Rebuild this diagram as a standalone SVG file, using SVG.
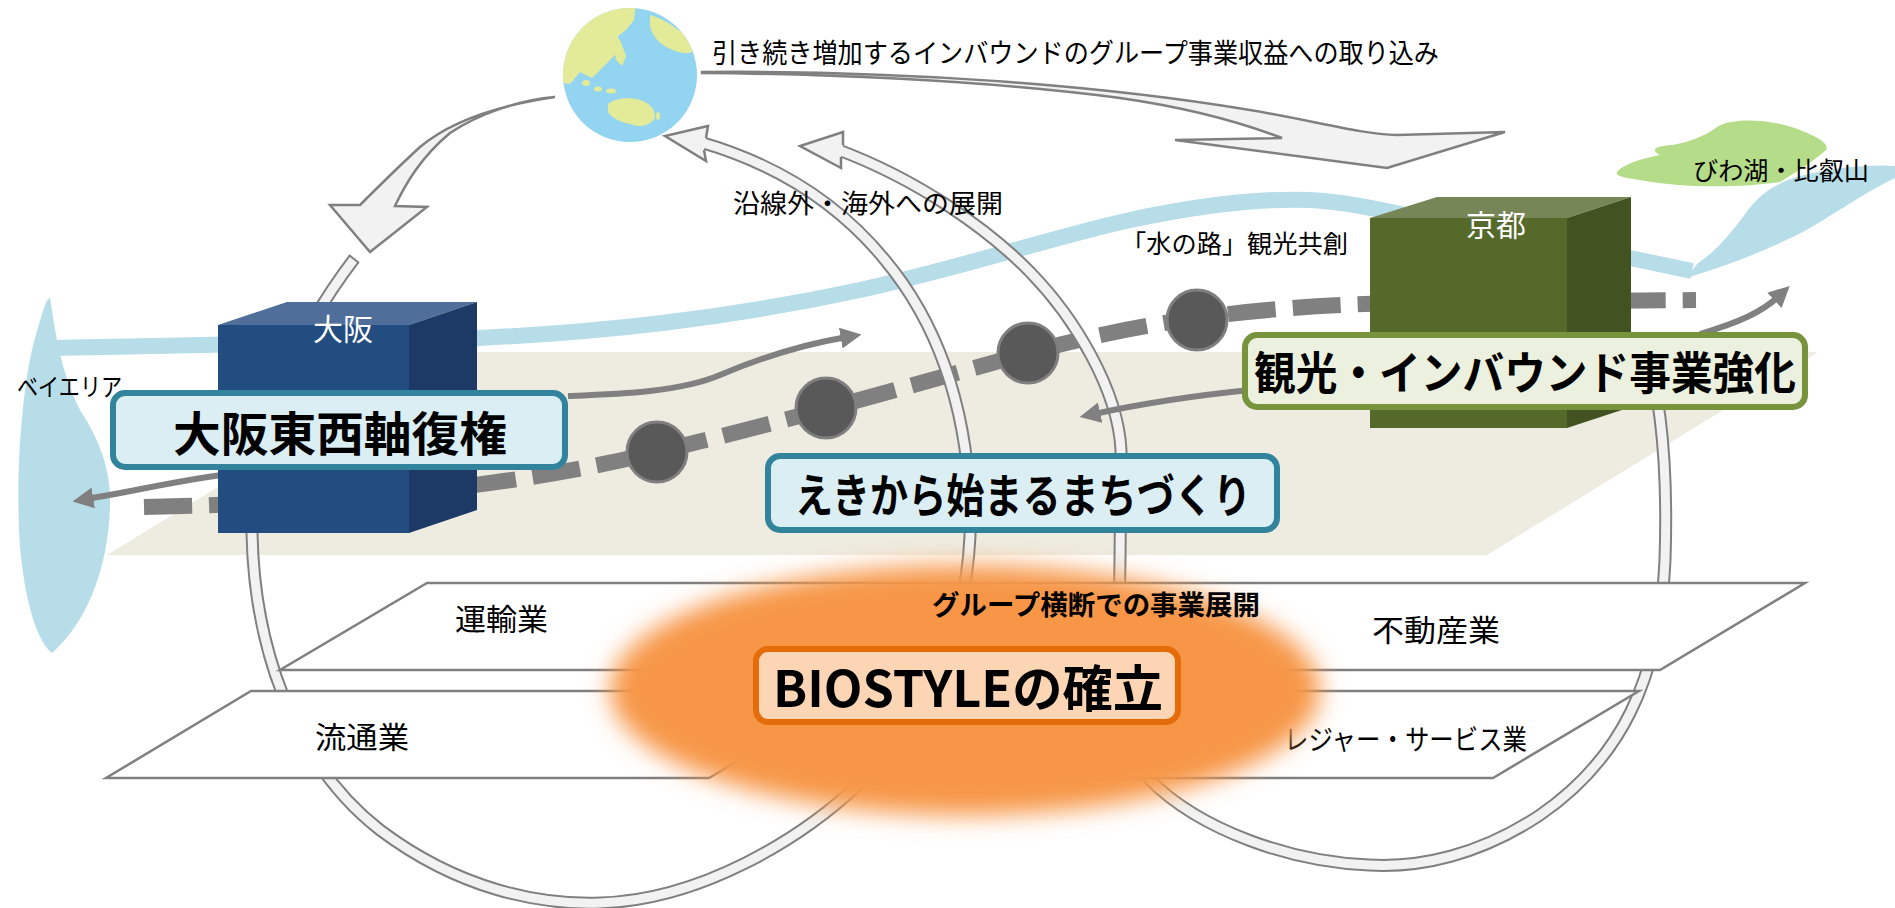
<svg xmlns="http://www.w3.org/2000/svg" width="1895" height="908" viewBox="0 0 1895 908">
<defs>
<style>
.t{font-family:"Noto Sans CJK JP","Noto Sans",sans-serif;fill:#000}
.b{font-weight:700}
.w{fill:#fff}
.band-o{fill:none;stroke:#808080;stroke-width:13}
.band-i{fill:none;stroke:#f2f2f2;stroke-width:9}
.fat{fill:#f2f2f2;stroke:#808080;stroke-width:2.5;stroke-linejoin:miter}
.plane{fill:#fff;stroke:#808080;stroke-width:2.5}
.flow{fill:none;stroke:#808080;stroke-width:6;marker-end:url(#head)}
.stop{fill:#595959;stroke:#7f7f7f;stroke-width:3}
.water{fill:#b7dde8}
</style>
<marker id="head" viewBox="0 0 10 10" refX="3" refY="5" markerWidth="3.5" markerHeight="3.5" orient="auto"><path d="M0,0 L10,5 L0,10 Z" fill="#808080"/></marker>
<filter id="soft" x="-20%" y="-40%" width="140%" height="180%"><feGaussianBlur stdDeviation="12"/></filter>
<clipPath id="earth"><circle cx="630" cy="75" r="67"/></clipPath>
</defs>

<rect width="1895" height="908" fill="#fff"/>

<!-- ground plane -->
<g id="ground"><polygon points="107,555 1487,555 1818,352 438,352" fill="#eeece1"/></g>

<!-- river, bay, lake and hills -->
<g id="water">
<path class="water" d="M50,298 C55,330 60,370 80,410 C100,440 110,470 110,500 C110,560 90,620 52,653 C35,640 22,590 19,530 C16,450 25,370 36,335 C42,315 46,298 50,298 Z"/>
<path d="M55,348 C200,345 400,342 480,338 C600,332 720,320 860,290 C960,268 1050,238 1130,220 C1200,205 1260,198 1310,200 C1350,202 1390,212 1420,218 L1630,258 L1692,271" fill="none" stroke="#b7dde8" stroke-width="16"/>
<path fill="#b5dc88" d="M1617,172 C1625,163 1645,158 1660,155 C1650,150 1655,146 1672,145 C1690,142 1705,136 1717,127 C1730,118 1770,118 1800,130 C1815,136 1830,143 1826,150 C1815,160 1800,170 1780,182 C1740,188 1680,188 1640,180 C1625,178 1615,176 1617,172 Z"/>
<path class="water" d="M1686,278 C1720,268 1770,250 1810,228 C1840,210 1870,190 1895,178 L1895,166 C1870,164 1830,168 1800,176 C1775,183 1760,195 1748,210 C1735,228 1718,250 1698,263 Z"/>
</g>

<!-- railway with stations -->
<g id="railway">
<path d="M144,507 C330,503 500,490 657,452 S920,383 1028,353 S1250,306 1400,303 L1696,300" fill="none" stroke="#808080" stroke-width="16" stroke-dasharray="48 17"/>
<circle class="stop" cx="657" cy="452" r="30"/>
<circle class="stop" cx="826" cy="408" r="30"/>
<circle class="stop" cx="1028" cy="353" r="30"/>
<circle class="stop" cx="1197" cy="320" r="30"/>
</g>

<!-- connectors -->
<g id="connectors">
<path class="band-o" d="M354,259 C300,330 250,430 252,533 C254,640 290,760 380,830 C460,890 540,905 600,903 C700,900 800,840 860,783 C930,710 975,620 970,500 C965,400 935,320 885,260 C840,205 780,165 700,142"/>
<path class="band-i" d="M354,259 C300,330 250,430 252,533 C254,640 290,760 380,830 C460,890 540,905 600,903 C700,900 800,840 860,783 C930,710 975,620 970,500 C965,400 935,320 885,260 C840,205 780,165 700,142"/>
<path d="M349,255 L359,263" stroke="#808080" stroke-width="2"/>
<path class="fat" d="M706,138 L708,126 L665,136 L706,161 L704,150"/>
<path class="band-o" d="M1645,345 C1662,400 1668,470 1665,560 C1660,680 1620,760 1540,815 C1480,855 1420,868 1369,865 C1290,862 1200,830 1150,780 C1125,730 1118,650 1120,560 L1121,450 C1118,390 1075,318 1030,272 C990,231 920,180 836,149"/>
<path class="band-i" d="M1645,345 C1662,400 1668,470 1665,560 C1660,680 1620,760 1540,815 C1480,855 1420,868 1369,865 C1290,862 1200,830 1150,780 C1125,730 1118,650 1120,560 L1121,450 C1118,390 1075,318 1030,272 C990,231 920,180 836,149"/>
<path class="fat" d="M843,145 L843,132 L800,146 L841,168 L841,157"/>
<path class="fat" d="M555,97 C500,105 452,120 420,147 C395,170 375,190 360,205 L330,205 L370,252 L427,207 L395,206 C405,185 420,158 450,133 C480,113 520,100 555,97 Z"/>
<path class="fat" d="M702,72 C900,70 1100,85 1250,110 C1320,122 1360,134 1397,135 L1505,132 L1387,168 L1175,140 L1282,138 C1240,122 1190,108 1120,98 C980,80 820,74 702,73 Z"/>
<path class="flow" d="M568,396 C620,394 680,392 720,375 C760,358 800,345 847,337"/>
<path class="flow" d="M230,474 C180,480 140,490 87,499"/>
<path class="flow" d="M1250,390 C1190,396 1140,404 1094,414"/>
<path class="flow" d="M1700,334 C1740,322 1762,312 1779,296"/>
</g>

<!-- Osaka block -->
<g id="osaka">
<polygon points="218,325 409,325 409,533 218,533" fill="#234c80"/>
<polygon points="218,325 287,302 477,302 409,325" fill="#4f6f9a"/>
<polygon points="409,325 477,302 477,510 409,533" fill="#1c3a65"/>
<text class="t w" x="343" y="340" font-size="30" text-anchor="middle">大阪</text>
</g>

<!-- Kyoto block -->
<g id="kyoto">
<polygon points="1370,218 1567,218 1567,428 1370,428" fill="#55692b"/>
<polygon points="1370,218 1437,197 1631,197 1567,218" fill="#768656"/>
<polygon points="1567,218 1631,197 1631,407 1567,428" fill="#435221"/>
<text class="t w" x="1496" y="236" font-size="30" text-anchor="middle">京都</text>
</g>

<!-- strategy boxes -->
<g id="osaka-axis">
<rect x="113" y="393" width="452" height="74" rx="12" fill="#dbeef4" stroke="#31849b" stroke-width="6"/>
<text class="t b" x="173" y="451" font-size="47" textLength="334" lengthAdjust="spacingAndGlyphs">大阪東西軸復権</text>
</g>
<g id="station-town">
<rect x="768" y="456" width="509" height="74" rx="12" fill="#dbeef4" stroke="#31849b" stroke-width="6"/>
<text class="t b" x="795" y="512" font-size="46" textLength="456" lengthAdjust="spacingAndGlyphs">えきから始まるまちづくり</text>
</g>
<g id="tourism">
<rect x="1245" y="335" width="560" height="72" rx="12" fill="#ebf1de" stroke="#77933c" stroke-width="6"/>
<text class="t b" x="1254" y="390" font-size="45" textLength="542" lengthAdjust="spacingAndGlyphs">観光・インバウンド事業強化</text>
</g>

<!-- business planes -->
<g id="planes">
<polygon class="plane" points="427,583 1805,583 1660,670 280,670"/>
<polygon class="plane" points="251,691 854,691 709,778 106,778"/>
<polygon class="plane" points="1050,691 1639,691 1493,778 905,778"/>
<text class="t" x="455" y="630" font-size="30" textLength="93" lengthAdjust="spacingAndGlyphs">運輸業</text>
<text class="t" x="1372" y="641" font-size="30" textLength="128" lengthAdjust="spacingAndGlyphs">不動産業</text>
<text class="t" x="315" y="748" font-size="30" textLength="94" lengthAdjust="spacingAndGlyphs">流通業</text>
<text class="t" x="1284" y="750" font-size="28" textLength="243" lengthAdjust="spacingAndGlyphs">レジャー・サービス業</text>
</g>

<!-- BIOSTYLE core -->
<g id="biostyle">
<ellipse cx="965" cy="690" rx="355" ry="125" fill="#f79646" filter="url(#soft)"/>
<text class="t b" x="932" y="615" font-size="27" textLength="328" lengthAdjust="spacingAndGlyphs">グループ横断での事業展開</text>
<rect x="756" y="649" width="422" height="73" rx="12" fill="#fcd5b5" stroke="#e46c0a" stroke-width="6"/>
<text class="t b" x="773" y="707" font-size="50" textLength="390" lengthAdjust="spacingAndGlyphs">BIOSTYLEの確立</text>
</g>

<!-- globe -->
<g id="globe">
<circle cx="630" cy="75" r="67" fill="#93d4f0"/>
<g clip-path="url(#earth)" fill="#e4eb98">
<path d="M556,40 L575,14 L600,4 L636,4 L634,20 L626,30 L618,36 L622,48 L612,58 L602,68 L592,78 L580,72 L570,84 L556,82 Z"/>
<path d="M650,15 C660,18 675,25 690,40 L692,52 C685,55 678,52 668,48 C660,44 652,36 650,26 Z"/>
<path d="M614,42 L620,40 L626,56 L622,66 L616,60 Z"/>
<ellipse cx="586" cy="83" rx="4" ry="3"/>
<ellipse cx="598" cy="89" rx="4" ry="2.5"/>
<ellipse cx="611" cy="91" rx="5" ry="2.5"/>
<path d="M608,104 C615,98 630,97 640,100 C650,103 656,110 655,118 C650,126 640,128 630,124 C620,122 612,118 608,112 Z"/>
<ellipse cx="658" cy="116" rx="2" ry="4"/>
</g>
</g>

<!-- place names and captions -->
<g id="labels">
<text class="t" x="712" y="63" font-size="27" textLength="727" lengthAdjust="spacingAndGlyphs">引き続き増加するインバウンドのグループ事業収益への取り込み</text>
<text class="t" x="733" y="213" font-size="26" textLength="270" lengthAdjust="spacingAndGlyphs">沿線外・海外への展開</text>
<text class="t" x="1121" y="253" font-size="25" textLength="227" lengthAdjust="spacingAndGlyphs">「水の路」観光共創</text>
<text class="t" x="1693" y="180" font-size="25" textLength="176" lengthAdjust="spacingAndGlyphs">びわ湖・比叡山</text>
<text class="t" x="17" y="396" font-size="25" textLength="105" lengthAdjust="spacingAndGlyphs">ベイエリア</text>
</g>
</svg>
